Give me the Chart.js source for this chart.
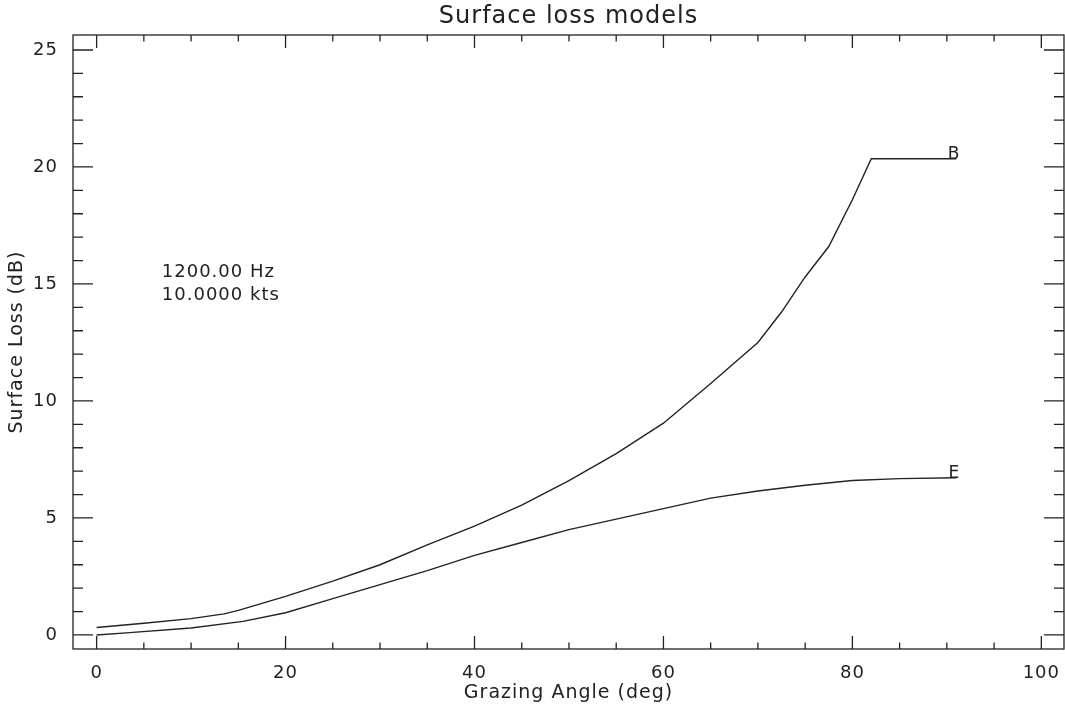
<!DOCTYPE html>
<html>
<head>
<meta charset="utf-8">
<script src="https://cdn.jsdelivr.net/npm/chart.js@4"></script>
<style>
  html, body { margin: 0; padding: 0; background: #fff; }
  #wrap { width: 1065px; height: 711px; }
</style>
</head>
<body>
<div id="wrap"><canvas id="grafico" width="1065" height="711"></canvas></div>
<script>
// ================================
// Dados
// ================================
const anguloB = [0, 5, 10, 13.5, 15, 20, 25, 30, 35, 40, 45, 50, 55, 60, 65, 70, 72.5, 75, 77.5, 80, 82, 91]
const perdaB = [0.32, 0.5, 0.7, 0.9, 1.05, 1.65, 2.3, 3.0, 3.85, 4.65, 5.55, 6.6, 7.75, 9.05, 10.75, 12.5, 13.8, 15.3, 16.6, 18.6, 20.35, 20.35]

const anguloE = [0, 3.5, 10, 15.5, 20, 25, 30, 35, 40, 45, 50, 55, 60, 65, 70, 75, 80, 85, 91]
const perdaE = [0, 0.1, 0.3, 0.58, 0.95, 1.55, 2.15, 2.75, 3.4, 3.95, 4.5, 4.95, 5.4, 5.85, 6.15, 6.4, 6.6, 6.68, 6.72]

const rotulosSeries = ["B", "E"]
const ticksX = [0, 20, 40, 60, 80, 100]
const ticksY = [0, 5, 10, 15, 20, 25]
const anotacao = ["1200.00 Hz", "10.0000 kts"]

const COR = "#222"
const FONTE = "DejaVu Sans"

// ================================
// Plugin: caixa e ticks no estilo IDL
// ================================
const eixosIDL = {
  id: "eixosIDL",
  beforeDraw(chart) {
    chart.ctx.letterSpacing = "1px"
  },
  afterDatasetsDraw(chart) {
    const { ctx, chartArea: a, scales } = chart
    const sx = scales.x
    const sy = scales.y
    ctx.save()
    ctx.strokeStyle = COR
    ctx.lineWidth = 1.3
    ctx.strokeRect(a.left, a.top, a.right - a.left, a.bottom - a.top)

    ctx.beginPath()
    // ticks do eixo x (baixo e cima)
    for (let v = 0; v <= 100; v += 5) {
      const px = sx.getPixelForValue(v)
      const len = v % 20 === 0 ? 13 : 6.5
      ctx.moveTo(px, a.bottom)
      ctx.lineTo(px, a.bottom - len)
      ctx.moveTo(px, a.top)
      ctx.lineTo(px, a.top + len)
    }
    // ticks do eixo y (esquerda e direita)
    for (let v = 0; v <= 25; v += 1) {
      const py = sy.getPixelForValue(v)
      const len = v % 5 === 0 ? 20 : 10
      ctx.moveTo(a.left, py)
      ctx.lineTo(a.left + len, py)
      ctx.moveTo(a.right, py)
      ctx.lineTo(a.right - len, py)
    }
    ctx.stroke()

    // rótulos no fim das curvas
    ctx.fillStyle = COR
    ctx.font = `17px ${FONTE}`
    ctx.textAlign = "right"
    ctx.textBaseline = "alphabetic"
    chart.data.datasets.forEach((ds, i) => {
      const ult = ds.data[ds.data.length - 1]
      ctx.fillText(rotulosSeries[i], sx.getPixelForValue(ult.x) + 4, sy.getPixelForValue(ult.y) + 0.5)
    })

    // anotação
    ctx.font = `18px ${FONTE}`
    ctx.textAlign = "left"
    const ax = sx.getPixelForValue(6.9)
    const ay = sy.getPixelForValue(15.3)
    anotacao.forEach((t, i) => ctx.fillText(t, ax, ay + i * 23))
    ctx.restore()
  },
}

// ================================
// Gráfico
// ================================
function paraPontos(xs, ys) {
  return xs.map((x, i) => ({ x: x, y: ys[i] }))
}

const ctx = document.getElementById("grafico").getContext("2d")
new Chart(ctx, {
  type: "line",
  data: {
    datasets: [
      {
        label: rotulosSeries[0],
        data: paraPontos(anguloB, perdaB),
        borderColor: COR,
        borderWidth: 1.4,
        pointRadius: 0,
        tension: 0,
      },
      {
        label: rotulosSeries[1],
        data: paraPontos(anguloE, perdaE),
        borderColor: COR,
        borderWidth: 1.4,
        pointRadius: 0,
        tension: 0,
      },
    ],
  },
  options: {
    responsive: false,
    animation: false,
    layout: { padding: { top: 0, right: 1, bottom: 0, left: 0 } },
    plugins: {
      legend: { display: false },
      tooltip: { enabled: false },
      title: {
        display: true,
        text: "Surface loss models",
        fullSize: false,
        color: COR,
        font: { family: FONTE, size: 24, weight: "normal", lineHeight: 1 },
        padding: { top: 5, bottom: 6 },
      },
    },
    scales: {
      x: {
        type: "linear",
        min: -2.5,
        max: 102.4,
        grid: { display: false },
        border: { display: false },
        afterBuildTicks: (s) => { s.ticks = ticksX.map((v) => ({ value: v })) },
        afterFit: (s) => { s.height = 62 },
        ticks: {
          color: COR,
          padding: 6,
          maxRotation: 0,
          font: { family: FONTE, size: 18 },
        },
        title: {
          display: true,
          text: "Grazing Angle (deg)",
          color: COR,
          font: { family: FONTE, size: 19 },
          padding: { top: 0, bottom: 7 },
        },
      },
      y: {
        type: "linear",
        min: -0.6,
        max: 25.64,
        grid: { display: false },
        border: { display: false },
        afterBuildTicks: (s) => { s.ticks = ticksY.map((v) => ({ value: v })) },
        afterFit: (s) => { s.width = 73 },
        ticks: {
          color: COR,
          padding: 7,
          font: { family: FONTE, size: 18 },
        },
        title: {
          display: true,
          text: "Surface Loss (dB)",
          color: COR,
          font: { family: FONTE, size: 19 },
          padding: { top: 6, bottom: 0 },
        },
      },
    },
  },
  plugins: [eixosIDL],
})
</script>
</body>
</html>
